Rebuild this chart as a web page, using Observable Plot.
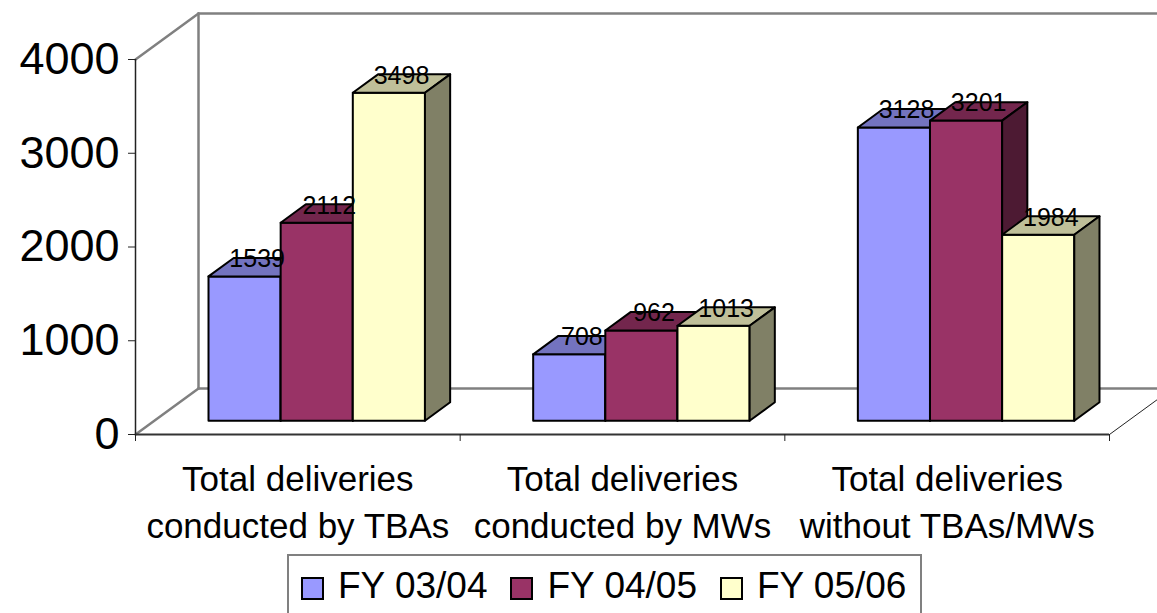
<!DOCTYPE html>
<html>
<head>
<meta charset="utf-8">
<script src="https://cdn.jsdelivr.net/npm/d3@7"></script>
<script src="https://cdn.jsdelivr.net/npm/@observablehq/plot@0.6"></script>
<style>
  html, body { margin: 0; padding: 0; background: #fff; overflow: hidden; }
  body { font-family: "Liberation Sans", Arial, Helvetica, sans-serif; width: 1157px; height: 613px; }
  #legend {
    box-sizing: border-box;
    margin-left: 287px;
    margin-top: 4px;
    width: 635px;
    height: 70px;
    border: 2px solid #808080;
    border-bottom: none;
    padding: 11px 0 0 12px;
    display: flex;
    align-items: flex-start;
  }
  .item { display: flex; align-items: flex-start; margin-right: 23px; }
  .sw { box-sizing: border-box; width: 23px; height: 23px; border: 2px solid #000; margin-top: 10px; margin-right: 14px; }
  .lab { font-size: 37px; line-height: 37px; color: #000; white-space: nowrap; }
</style>
</head>
<body>
<div id="chart"></div>
<div id="legend"></div>
<script>
// ---- data ----
const categories = [
  "Total deliveries\nconducted by TBAs",
  "Total deliveries\nconducted by MWs",
  "Total deliveries\nwithout TBAs/MWs"
];
const seriesNames = ["FY 03/04", "FY 04/05", "FY 05/06"];
const fy0304 = [1539, 708, 3128];
const fy0405 = [2112, 962, 3201];
const fy0506 = [3498, 1013, 1984];
const yTicks = [0, 1000, 2000, 3000, 4000];

// ---- styles ----
const frontColors = ["#9999FF", "#993366", "#FFFFCC"];
const topColors   = ["#7373BF", "#73264D", "#BFBF99"];
const sideColors  = ["#4D4D80", "#4D1A33", "#808066"];

// ---- geometry ----
const W = 1157, H = 550, mL = 135, mR = 48, mT = 59, mB = 116;
const yMax = yTicks[yTicks.length - 1];
const nCat = categories.length;
const pxPerX = (W - mL - mR) / nCat;
const pxPerY = (H - mT - mB) / yMax;
const DX = 63 / pxPerX;   // floor depth, in x units
const DY = 46 / pxPerY;   // floor depth, in y units
const GAP = 1.5;          // gap width 150%
const bw = 1 / (seriesNames.length + GAP);
const z0 = 0.3, z1 = 0.7; // bar front / back depth fraction

const values = [fy0304, fy0405, fy0506];
const polys = [];
const labels = [];
const off = (t, x, y) => ({x: x + t * DX, y: y + t * DY});
categories.forEach((c, ci) => {
  seriesNames.forEach((s, si) => {
    const v = values[si][ci];
    const xa = ci + (GAP / 2) * bw + si * bw, xb = xa + bw;
    const id = ci + "-" + si;
    const push = (face, fill, pts) =>
      pts.concat([pts[0]]).forEach(p => polys.push({id: id + face, fill, x: p.x, y: p.y}));
    push("f", frontColors[si], [off(z0, xa, 0), off(z0, xb, 0), off(z0, xb, v), off(z0, xa, v)]);
    push("t", topColors[si],   [off(z0, xa, v), off(z0, xb, v), off(z1, xb, v), off(z1, xa, v)]);
    push("s", sideColors[si],  [off(z0, xb, 0), off(z1, xb, 0), off(z1, xb, v), off(z0, xb, v)]);
    const m = off((z0 + z1) / 2, (xa + xb) / 2, v);
    labels.push({x: m.x, y: m.y, text: String(v)});
  });
});

const walls = [
  [off(0, 0, yMax), off(1, 0, yMax)],
  [off(0, 0, 0), off(1, 0, 0)],
  [off(1, 0, 0), off(1, 0, yMax)],
  [off(1, 0, yMax), off(1, nCat, yMax)],
  [off(1, 0, 0), off(1, nCat, 0)],
  [off(1, nCat, 0), off(1, nCat, yMax)]
].flatMap((seg, i) => seg.map(p => ({...p, k: i})));
const floorRight = [off(0, nCat, 0), off(1, nCat, 0)];

const chart = Plot.plot({
  width: W, height: H,
  marginLeft: mL, marginRight: mR, marginTop: mT, marginBottom: mB,
  style: {fontFamily: "'Liberation Sans', Arial, Helvetica, sans-serif", background: "#fff", color: "#000", overflow: "visible"},
  x: {type: "linear", domain: [0, nCat], axis: null, label: null},
  y: {domain: [0, yMax], axis: null, label: null},
  color: {type: "identity"},
  marks: [
    Plot.line(walls, {x: "x", y: "y", z: "k", stroke: "#808080", strokeWidth: 2.5}),
    Plot.line(floorRight, {x: "x", y: "y", stroke: "#222", strokeWidth: 1}),
    Plot.ruleX([0], {y1: 0, y2: yMax, stroke: "#222", strokeWidth: 1.5}),
    Plot.ruleY([0], {x1: 0, x2: nCat, stroke: "#333", strokeWidth: 2}),
    Plot.axisY({ticks: yTicks, label: null, tickSize: 7, tickPadding: 9, fontSize: 45, stroke: "#222", tickFormat: d => String(d)}),
    Plot.axisX({ticks: d3.range(nCat + 1), label: null, tickSize: 7, stroke: "#222", tickFormat: () => ""}),
    Plot.text(categories, {x: (d, i) => i + 0.5, y: () => 0, dy: 23, lineAnchor: "top", fontSize: 35, lineHeight: 1.343, fill: "#000"}),
    Plot.line(polys, {x: "x", y: "y", z: "id", fill: "fill", stroke: "#000", strokeWidth: 2, strokeLinejoin: "round"}),
    Plot.text(labels, {x: "x", y: "y", text: "text", lineAnchor: "bottom", fontSize: 25, fill: "#000"})
  ]
});
document.getElementById("chart").appendChild(chart);

const legend = document.getElementById("legend");
seriesNames.forEach((s, i) => {
  const item = document.createElement("div");
  item.className = "item";
  const sw = document.createElement("div");
  sw.className = "sw";
  sw.style.background = frontColors[i];
  const lab = document.createElement("div");
  lab.className = "lab";
  lab.textContent = s;
  item.appendChild(sw);
  item.appendChild(lab);
  legend.appendChild(item);
});
</script>
</body>
</html>
